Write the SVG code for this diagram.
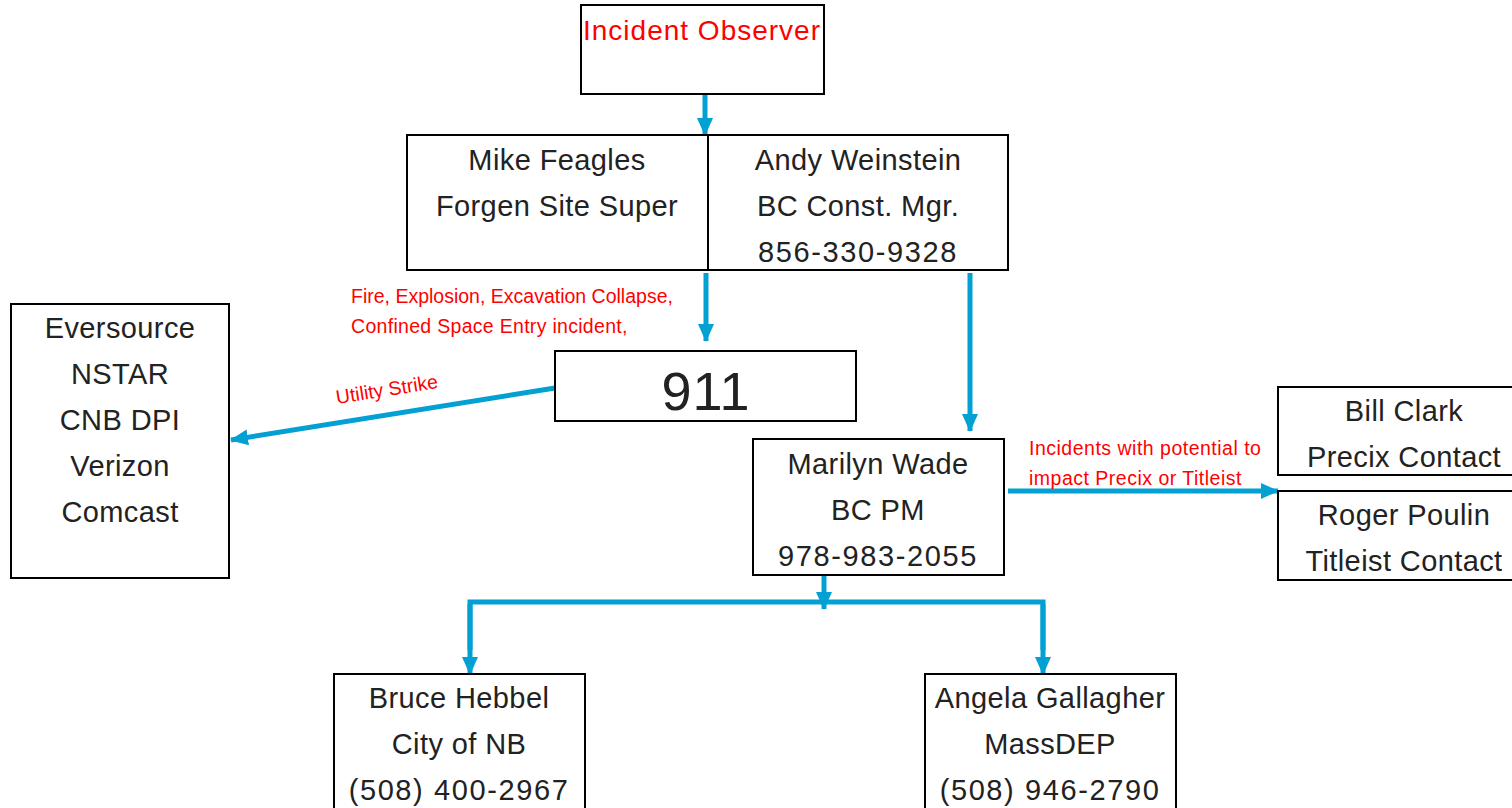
<svg xmlns="http://www.w3.org/2000/svg" width="1512" height="808" viewBox="0 0 1512 808">
<defs>
<marker id="ah" markerUnits="userSpaceOnUse" markerWidth="18" markerHeight="16" refX="17" refY="8" orient="auto">
<path d="M0,0 L18,8 L0,16 Z" fill="#03A0D3"/>
</marker>
</defs>
<style>
.box{fill:#fff;stroke:#000;stroke-width:2}
.t{font-family:"Liberation Sans",Arial,sans-serif;font-size:29px;letter-spacing:0.4px;fill:#222;text-anchor:middle}
.p{letter-spacing:1.6px}
.r{font-family:"Liberation Sans",Arial,sans-serif;font-size:19.5px;fill:#f00}
.c{fill:none;stroke:#03A0D3;stroke-width:5}
</style>
<rect width="1512" height="808" fill="#fff"/>
<g id="connectors">
<line class="c" x1="705" y1="94" x2="705" y2="135" marker-end="url(#ah)"/>
<line class="c" x1="706" y1="273" x2="706" y2="341" marker-end="url(#ah)"/>
<line class="c" x1="970" y1="273" x2="970" y2="431" marker-end="url(#ah)"/>
<line class="c" x1="555" y1="388" x2="231" y2="440" marker-end="url(#ah)"/>
<line class="c" x1="1008" y1="491" x2="1278" y2="491" marker-end="url(#ah)"/>
<line class="c" x1="824" y1="575" x2="824" y2="609" marker-end="url(#ah)"/>
<polyline class="c" points="470,650 470,602 1043,602 1043,650"/>
<line class="c" x1="470" y1="604" x2="470" y2="674" marker-end="url(#ah)"/>
<line class="c" x1="1043" y1="604" x2="1043" y2="674" marker-end="url(#ah)"/>
<text class="r" x="351" y="303">Fire, Explosion, Excavation Collapse,</text>
<text class="r" x="351" y="333" style="letter-spacing:0.3px">Confined Space Entry incident,</text>
<text class="r" x="387" y="396" text-anchor="middle" transform="rotate(-9 387 390)">Utility Strike</text>
<text class="r" x="1029" y="455" style="letter-spacing:0.5px">Incidents with potential to</text>
<text class="r" x="1029" y="485" style="letter-spacing:0.5px">impact Precix or Titleist</text>
</g>
<g id="observer">
<rect class="box" x="581" y="5" width="243" height="89"/>
<text class="t" x="702" y="40" style="fill:#f00;font-size:28px;letter-spacing:1px">Incident Observer</text>
</g>
<g id="mike">
<rect class="box" x="407" y="135" width="301" height="135"/>
<text class="t" x="557" y="170">Mike Feagles</text>
<text class="t" x="557" y="216">Forgen Site Super</text>
</g>
<g id="andy">
<rect class="box" x="708" y="135" width="300" height="135"/>
<text class="t" x="858" y="170">Andy Weinstein</text>
<text class="t" x="858" y="216">BC Const. Mgr.</text>
<text class="t p" x="858" y="262">856-330-9328</text>
</g>
<g id="n911">
<rect class="box" x="555" y="351" width="301" height="70"/>
<text class="t" x="706" y="410" style="font-size:54px;letter-spacing:1px">911</text>
</g>
<g id="utilities">
<rect class="box" x="11" y="304" width="218" height="274"/>
<text class="t" x="120" y="338">Eversource</text>
<text class="t" x="120" y="384">NSTAR</text>
<text class="t" x="120" y="430">CNB DPI</text>
<text class="t" x="120" y="476">Verizon</text>
<text class="t" x="120" y="522">Comcast</text>
</g>
<g id="marilyn">
<rect class="box" x="753" y="439" width="251" height="136"/>
<text class="t" x="878" y="474">Marilyn Wade</text>
<text class="t" x="878" y="520">BC PM</text>
<text class="t p" x="878" y="566">978-983-2055</text>
</g>
<g id="bill">
<rect class="box" x="1278" y="387" width="250" height="88"/>
<text class="t" x="1404" y="421">Bill Clark</text>
<text class="t" x="1404" y="467">Precix Contact</text>
</g>
<g id="roger">
<rect class="box" x="1278" y="491" width="250" height="89"/>
<text class="t" x="1404" y="525">Roger Poulin</text>
<text class="t" x="1404" y="571">Titleist Contact</text>
</g>
<g id="bruce">
<rect class="box" x="334" y="674" width="251" height="150"/>
<text class="t" x="459" y="708">Bruce Hebbel</text>
<text class="t" x="459" y="754">City of NB</text>
<text class="t p" x="459" y="800">(508) 400-2967</text>
</g>
<g id="angela">
<rect class="box" x="925" y="674" width="251" height="150"/>
<text class="t" x="1050" y="708">Angela Gallagher</text>
<text class="t" x="1050" y="754">MassDEP</text>
<text class="t p" x="1050" y="800">(508) 946-2790</text>
</g>
</svg>
